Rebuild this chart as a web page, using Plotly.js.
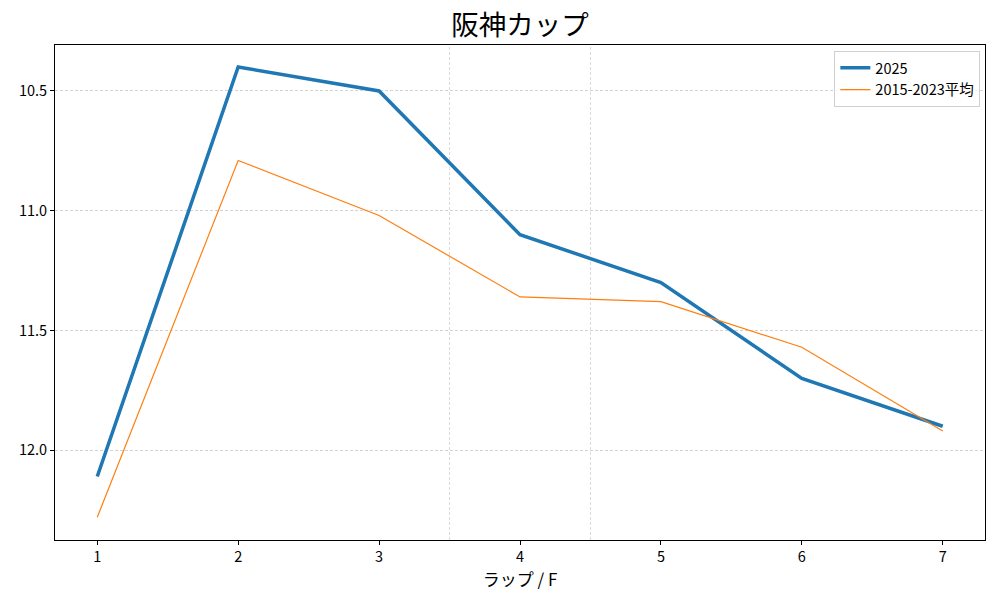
<!DOCTYPE html>
<html>
<head>
<meta charset="utf-8">
<script src="https://cdn.plot.ly/plotly-3.0.1.min.js"></script>
<style>html,body{margin:0;padding:0;background:#fff;}#chart{width:1000px;height:600px;}</style>
</head>
<body>
<div id="chart"></div>
<script>
const laps = [1, 2, 3, 4, 5, 6, 7];
const lap2025 = [12.11, 10.4, 10.5, 11.1, 11.3, 11.7, 11.9];
const lapAvg = [12.28, 10.79, 11.02, 11.36, 11.38, 11.57, 11.92];
const seriesNames = ['2025', '2015-2023平均'];
const dividers = [3.5, 4.5];
const titleText = '阪神カップ';
const xTitle = 'ラップ / F';

const FONT = '"Noto Sans CJK JP", "Noto Sans", sans-serif';

const traces = [
  {x: laps, y: lap2025, name: seriesNames[0], mode: 'lines', line: {color: '#1f77b4', width: 3.5}},
  {x: laps, y: lapAvg, name: seriesNames[1], mode: 'lines', line: {color: '#ff7f0e', width: 1.2}}
];

const shapes = dividers.map(v => ({
  type: 'line', xref: 'x', yref: 'paper', x0: v, x1: v, y0: 0, y1: 1,
  line: {color: '#d0d0d0', width: 0.8, dash: '3px,2px'}, layer: 'below'
}));

const layout = {
  width: 1000, height: 600,
  margin: {l: 55, r: 15, t: 45, b: 60},
  paper_bgcolor: '#fff', plot_bgcolor: '#fff',
  font: {family: FONT, color: '#000', size: 14},
  title: {text: titleText, font: {family: FONT, size: 27.5, color: '#000'}, x: 0.52, xanchor: 'center', y: 0.957, yanchor: 'middle'},
  showlegend: true,
  legend: {x: 0.995, y: 0.988, xanchor: 'right', yanchor: 'top', bgcolor: 'rgba(255,255,255,0.8)', bordercolor: '#d0d0d0', borderwidth: 1, font: {family: FONT, size: 14.5}, tracegroupgap: 0, itemwidth: 30},
  xaxis: {
    range: [0.7, 7.3], tickvals: laps, ticktext: laps.map(String),
    showgrid: false, zeroline: false, showline: true, linecolor: '#000', linewidth: 1, mirror: true,
    ticks: 'outside', ticklen: 4, tickcolor: '#000', tickfont: {size: 14.5},
    title: {text: xTitle, font: {family: FONT, size: 17}, standoff: 4}
  },
  yaxis: {
    range: [12.375, 10.308], tickvals: [10.5, 11.0, 11.5, 12.0], ticktext: ['10.5', '11.0', '11.5', '12.0'],
    showgrid: true, gridcolor: '#c8c8c8', gridwidth: 0.8, griddash: '3px,2px',
    zeroline: false, showline: true, linecolor: '#000', linewidth: 1, mirror: true,
    ticks: 'outside', ticklen: 4, tickcolor: '#000', tickfont: {size: 14.5}
  },
  shapes: shapes
};

Plotly.newPlot('chart', traces, layout, {displayModeBar: false, staticPlot: true});
</script>
</body>
</html>
